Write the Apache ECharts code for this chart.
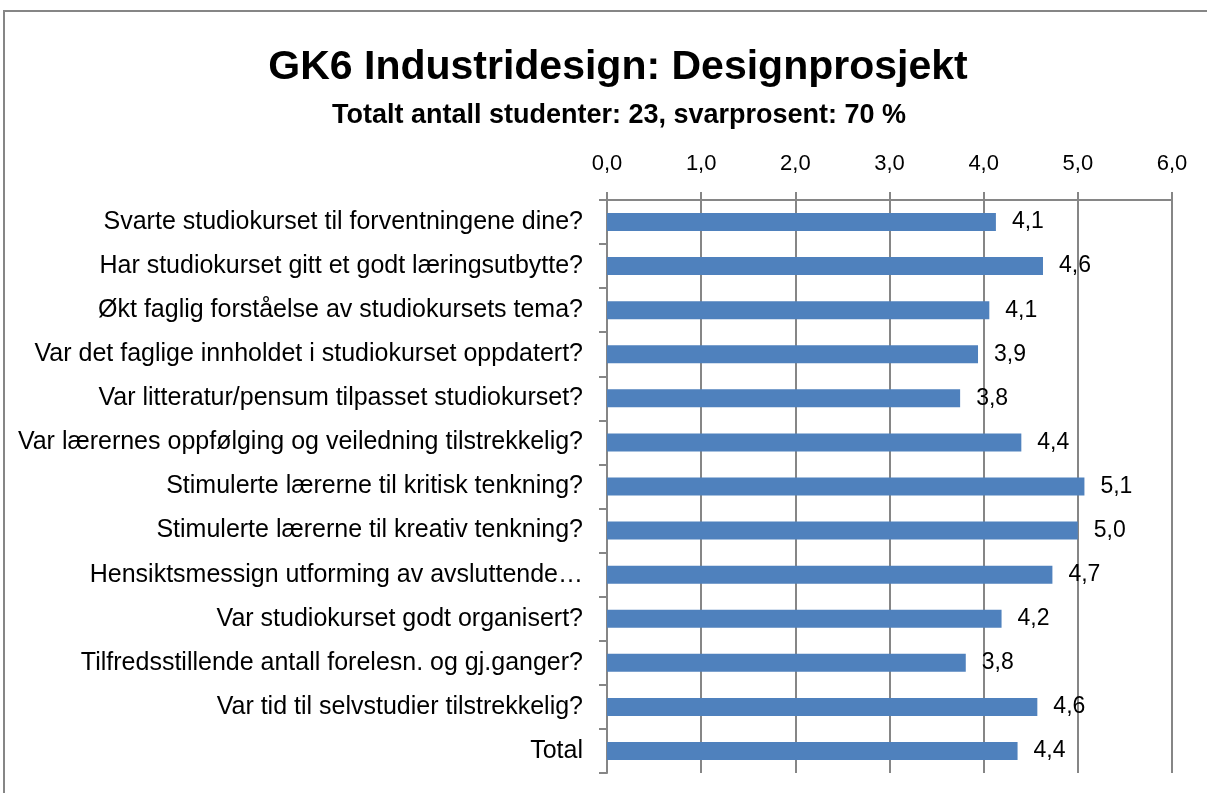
<!DOCTYPE html>
<html>
<head>
<meta charset="utf-8">
<script src="https://cdn.jsdelivr.net/npm/echarts@6/dist/echarts.min.js"></script>
<style>
  html, body { margin: 0; padding: 0; background: #fff; }
  #main { width: 1207px; height: 793px; }
</style>
</head>
<body>
<div id="main"></div>
<script>
// spørsmål, ovenfra og ned
var categories = [
  'Svarte studiokurset til forventningene dine?',
  'Har studiokurset gitt et godt læringsutbytte?',
  'Økt faglig forståelse av studiokursets tema?',
  'Var det faglige innholdet i studiokurset oppdatert?',
  'Var litteratur/pensum tilpasset studiokurset?',
  'Var lærernes oppfølging og veiledning tilstrekkelig?',
  'Stimulerte lærerne til kritisk tenkning?',
  'Stimulerte lærerne til kreativ tenkning?',
  'Hensiktsmessign utforming av avsluttende…',
  'Var studiokurset godt organisert?',
  'Tilfredsstillende antall forelesn. og gj.ganger?',
  'Var tid til selvstudier tilstrekkelig?',
  'Total'
];
var scores = [4.13, 4.63, 4.06, 3.94, 3.75, 4.40, 5.07, 5.00, 4.73, 4.19, 3.81, 4.57, 4.36];
var xTicks = [0, 1, 2, 3, 4, 5, 6];

var font = '"Liberation Sans", Arial, sans-serif';
var gray = '#868686';

function komma(v, d) {
  return Number(v).toFixed(d).replace('.', ',');
}

var myChart = echarts.init(document.getElementById('main'));
myChart.setOption({
  animation: false,
  backgroundColor: '#fff',
  title: [
    {
      text: 'GK6 Industridesign: Designprosjekt',
      left: 613, top: 42, textAlign: 'center',
      textStyle: { fontFamily: font, fontSize: 41, fontWeight: 'bold', color: '#000' }
    },
    {
      text: 'Totalt antall studenter: 23, svarprosent: 70 %',
      left: 614, top: 97, textAlign: 'center',
      textStyle: { fontFamily: font, fontSize: 27, fontWeight: 'bold', color: '#000' }
    }
  ],
  graphic: [{
    type: 'rect',
    shape: { x: 4, y: 11, width: 1400, height: 1000 },
    style: { fill: 'none', stroke: gray, lineWidth: 2 },
    silent: true
  }],
  grid: { left: 607, right: 35, top: 200, bottom: 20 },
  xAxis: {
    type: 'value',
    position: 'top',
    min: xTicks[0],
    max: xTicks[xTicks.length - 1],
    interval: 1,
    axisLine: { show: true, lineStyle: { color: gray, width: 2 } },
    axisTick: { show: true, length: 8, lineStyle: { color: gray, width: 2 } },
    splitLine: { show: true, lineStyle: { color: gray, width: 2 } },
    axisLabel: {
      margin: 25,
      fontFamily: font, fontSize: 22, color: '#000',
      formatter: function (v) { return komma(v, 1); }
    }
  },
  yAxis: {
    type: 'category',
    inverse: true,
    data: categories,
    axisLine: { show: true, lineStyle: { color: gray, width: 2 } },
    axisTick: { show: true, length: 8, lineStyle: { color: gray, width: 2 } },
    axisLabel: {
      margin: 24,
      fontFamily: font, fontSize: 25, color: '#000'
    }
  },
  series: [{
    type: 'bar',
    data: scores,
    barWidth: 18,
    itemStyle: { color: '#4f81bd' },
    label: {
      show: true,
      position: 'right',
      distance: 16,
      fontFamily: font, fontSize: 23, color: '#000',
      formatter: function (p) { return komma(p.value, 1); }
    }
  }]
});
</script>
</body>
</html>
